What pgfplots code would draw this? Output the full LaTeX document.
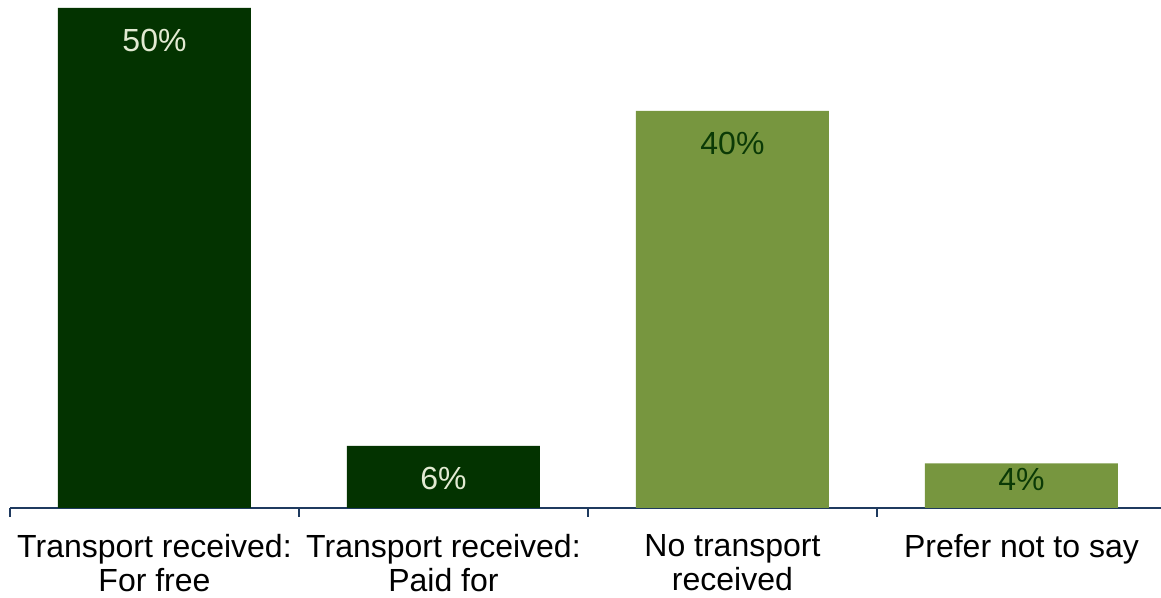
\documentclass[border=0pt]{standalone}
\usepackage{pgfplots}
\pgfplotsset{compat=1.18}
\usepackage{pgfplotstable}
\usepackage{fontspec}
\setmainfont{Liberation Sans}
\definecolor{darkbar}{HTML}{033300}
\definecolor{lightbar}{HTML}{77963F}
\definecolor{darklab}{HTML}{E2EAD2}
\definecolor{lightlab}{HTML}{0B3A06}
\definecolor{axiscol}{HTML}{1F3A5F}
\pgfplotstableread{
x y ly
0 50.0 46.8
1 6.2 3.0
}\darkdata
\pgfplotstableread{
x y ly
2 39.7 36.5
3 4.45 2.9
}\lightdata
\begin{document}
\begin{tikzpicture}
\useasboundingbox (0,0) rectangle (580.5pt,299pt);
\begin{axis}[
  at={(5pt,45pt)}, anchor=south west,
  scale only axis, width=575.5pt, height=254pt,
  xmin=-0.5, xmax=3.483, ymin=0, ymax=50.8,
  axis x line*=bottom, axis y line=none,
  x axis line style={draw=axiscol, line width=1pt, -},
  xtick={0,1,2,3},
  xticklabels={{Transport received:\\For free},{Transport received:\\Paid for},{No transport\\received},{Prefer not to say}},
  xticklabel style={align=center, font=\fontsize{16}{17}\selectfont, text=black, anchor=north, yshift=-9.5pt},
  major tick length=0pt,
  extra x ticks={-0.5,0.5,1.5,2.5},
  extra x tick labels={},
  extra x tick style={major tick length=4.5pt, tick align=outside, tick style={draw=axiscol, line width=1pt}},
  ybar, bar width=96.5pt, bar shift=0pt,
  clip=false,
  /pgf/number format/assume math mode=true,
]
\addplot[draw=none, fill=darkbar] table[x=x, y=y] {\darkdata};
\addplot[draw=none, fill=lightbar] table[x=x, y=y] {\lightdata};
\addplot[only marks, mark=none, point meta=explicit, nodes near coords={\pgfmathprintnumber[fixed,precision=0,assume math mode=true]{\pgfplotspointmeta}\%},
  nodes near coords style={anchor=center, text=darklab, font=\fontsize{16}{17}\selectfont}] table[x=x, y=ly, meta=y] {\darkdata};
\addplot[only marks, mark=none, point meta=explicit, nodes near coords={\pgfmathprintnumber[fixed,precision=0,assume math mode=true]{\pgfplotspointmeta}\%},
  nodes near coords style={anchor=center, text=lightlab, font=\fontsize{16}{17}\selectfont}] table[x=x, y=ly, meta=y] {\lightdata};
\end{axis}
\end{tikzpicture}
\end{document}
